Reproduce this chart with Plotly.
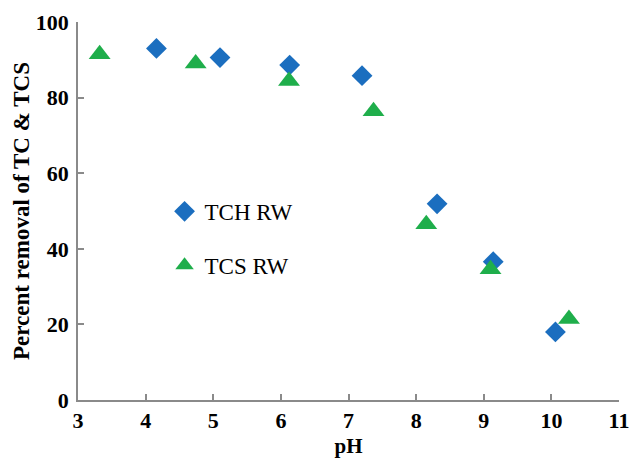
import plotly.graph_objects as go

# pH vs. percent removal for the two real-water series
tch_ph = [4.16, 5.10, 6.13, 7.20, 8.31, 9.14, 10.06]
tch_removal = [93.0, 90.6, 88.6, 85.8, 51.9, 36.6, 18.0]

tcs_ph = [3.32, 4.74, 6.12, 7.37, 8.15, 9.10, 10.26]
tcs_removal = [91.5, 89.0, 84.4, 76.4, 46.5, 34.6, 21.4]

x_ticks = [3, 4, 5, 6, 7, 8, 9, 10, 11]
y_ticks = [0, 20, 40, 60, 80, 100]

BLUE = "#1b6ebf"
GREEN = "#1fae4b"
AXIS = "#8a8a8a"
FONT = "Liberation Serif"

fig = go.Figure()
fig.add_trace(go.Scatter(
    x=tch_ph, y=tch_removal, mode="markers", name="TCH RW",
    legendgroup="a",
    marker=dict(symbol="diamond", size=16, color=BLUE, line=dict(width=0)),
))
fig.add_trace(go.Scatter(
    x=tcs_ph, y=tcs_removal, mode="markers", name="TCS RW",
    legendgroup="b",
    marker=dict(symbol="triangle-up", size=19, color=GREEN, line=dict(width=0)),
))

axis_common = dict(
    showgrid=False, zeroline=False, showline=True, linecolor=AXIS, linewidth=1.5,
    ticks="inside", tickcolor=AXIS, tickwidth=1.5, ticklen=6, automargin=False,
    tickfont=dict(family=FONT, size=22, color="black", weight="bold"),
)

fig.update_layout(
    width=632, height=460,
    margin=dict(l=78, r=13, t=22, b=60),
    paper_bgcolor="white", plot_bgcolor="white",
    font=dict(family=FONT, color="black"),
    xaxis=dict(range=[3, 11], tickvals=x_ticks, ticklabelstandoff=0, **axis_common,
               title=dict(text="pH", font=dict(family=FONT, size=21, weight="bold"),
                          standoff=6)),
    yaxis=dict(range=[0, 100], tickvals=y_ticks, ticklabelstandoff=3, **axis_common,
               title=dict(text="Percent removal of TC &amp; TCS",
                          font=dict(family=FONT, size=23, weight="bold"),
                          standoff=0)),
    legend=dict(x=0.16, y=0.556, xanchor="left", yanchor="top",
                bgcolor="rgba(0,0,0,0)", tracegroupgap=21,
                font=dict(family=FONT, size=23, color="black"),
                itemwidth=30),
    showlegend=True,
)

fig.write_html("out.html")
